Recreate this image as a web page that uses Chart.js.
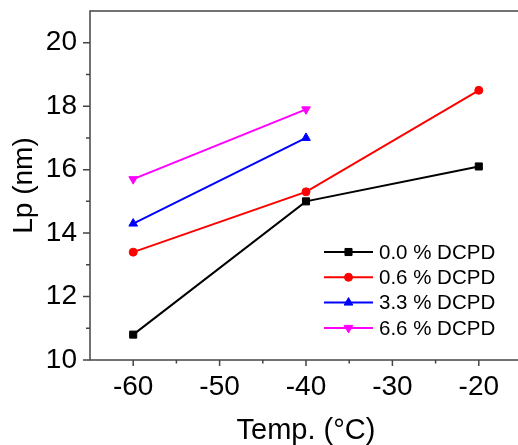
<!DOCTYPE html>
<html><head><meta charset="utf-8">
<script src="https://cdn.jsdelivr.net/npm/chart.js@4/dist/chart.umd.min.js"></script>
<style>
html,body{margin:0;padding:0;overflow:hidden;background:#fff;width:518px;height:445px}
canvas{display:block}
</style></head>
<body>
<canvas id="c" width="530" height="445"></canvas>
<script>
// ---- data ----
const temps = [-60, -40, -20];
const seriesLabels = ['0.0 % DCPD', '0.6 % DCPD', '3.3 % DCPD', '6.6 % DCPD'];
const lp00 = [10.8, 15.0, 16.1];
const lp06 = [13.4, 15.3, 18.5];
const lp33 = [14.3, 17.0];
const lp66 = [15.7, 17.9];
const xTicks = [-60, -50, -40, -30, -20];
const xMinorTicks = [-55, -45, -35, -25];
const yTicks = [10, 12, 14, 16, 18, 20];
const yMinorTicks = [11, 13, 15, 17, 19];
const xTitle = 'Temp. (°C)';
const yTitle = 'Lp (nm)';

const FONT = "'Liberation Sans', Arial, sans-serif";
Chart.defaults.font.family = FONT;
Chart.defaults.color = '#000';

const toPts = (vals) => vals.map((v, i) => ({x: temps[i], y: v}));
const colors = ['#000000', '#ff0000', '#0000ff', '#ff00ff'];
const styles = [
  {pointStyle: 'rect', radius: 5, rotation: 0},
  {pointStyle: 'circle', radius: 4, rotation: 0},
  {pointStyle: 'triangle', radius: 5, rotation: 0},
  {pointStyle: 'triangle', radius: 5, rotation: 180}
];
const seriesVals = [lp00, lp06, lp33, lp66];

const datasets = seriesVals.map((vals, i) => ({
  label: seriesLabels[i],
  data: toPts(vals),
  borderColor: colors[i],
  backgroundColor: colors[i],
  borderWidth: 2,
  pointStyle: styles[i].pointStyle,
  pointRadius: styles[i].radius,
  pointRotation: styles[i].rotation,
  pointBackgroundColor: colors[i],
  pointBorderColor: colors[i],
  pointBorderWidth: 1,
  tension: 0,
  clip: false
}));

function drawMarker(ctx, st, x, y, color) {
  ctx.save();
  ctx.fillStyle = color; ctx.strokeStyle = color; ctx.lineWidth = 1;
  if (Chart.helpers && Chart.helpers.drawPoint) {
    Chart.helpers.drawPoint(ctx, {pointStyle: st.pointStyle, radius: st.radius, rotation: st.rotation, borderWidth: 1}, x, y);
  }
  ctx.restore();
}

const framePlugin = {
  id: 'frameTicks',
  afterDraw(chart) {
    const {ctx, chartArea: a, scales: {x, y}} = chart;
    ctx.save();
    ctx.strokeStyle = '#444';
    ctx.lineWidth = 1.5;
    ctx.strokeRect(a.left, a.top, a.right - a.left, a.bottom - a.top);
    ctx.beginPath();
    xTicks.forEach(v => { const p = x.getPixelForValue(v); ctx.moveTo(p, a.bottom); ctx.lineTo(p, a.bottom + 6); });
    xMinorTicks.forEach(v => { const p = x.getPixelForValue(v); ctx.moveTo(p, a.bottom); ctx.lineTo(p, a.bottom + 3.5); });
    yTicks.forEach(v => { const p = y.getPixelForValue(v); ctx.moveTo(a.left, p); ctx.lineTo(a.left - 7, p); });
    yMinorTicks.forEach(v => { const p = y.getPixelForValue(v); ctx.moveTo(a.left, p); ctx.lineTo(a.left - 4, p); });
    ctx.stroke();
    ctx.restore();

    // legend inside plot area
    const lx = a.left + 234, ly0 = a.bottom - 108, dy = 25.3;
    chart.data.datasets.forEach((ds, i) => {
      const yy = ly0 + i * dy;
      ctx.save();
      ctx.strokeStyle = ds.borderColor; ctx.lineWidth = 2;
      ctx.beginPath(); ctx.moveTo(lx, yy); ctx.lineTo(lx + 49, yy); ctx.stroke();
      drawMarker(ctx, styles[i], lx + 24.5, yy, ds.borderColor);
      ctx.fillStyle = '#000';
      ctx.font = '20.5px ' + FONT;
      ctx.textBaseline = 'middle';
      ctx.fillText(ds.label, lx + 55, yy + 1);
      ctx.restore();
    });
  }
};

new Chart(document.getElementById('c'), {
  type: 'line',
  data: {datasets},
  options: {
    responsive: false,
    animation: false,
    devicePixelRatio: 1,
    layout: {padding: {top: 11, right: 8, left: 0, bottom: 0}},
    plugins: {legend: {display: false}, tooltip: {enabled: false}},
    scales: {
      x: {
        type: 'linear', min: -65, max: -15,
        afterBuildTicks: s => { s.ticks = xTicks.map(v => ({value: v})); },
        afterFit: s => { s.height = 85; s.paddingLeft = 0; s.paddingRight = 0; },
        border: {display: false},
        grid: {display: false, drawTicks: false},
        ticks: {font: {size: 28}, color: '#000', padding: 10, maxRotation: 0},
        title: {display: true, text: xTitle, font: {size: 29, lineHeight: 1}, color: '#000', padding: {top: 0, bottom: -0.5}}
      },
      y: {
        type: 'linear', min: 10, max: 21,
        afterBuildTicks: s => { s.ticks = yTicks.map(v => ({value: v})); },
        afterFit: s => { s.width = 90; s.paddingTop = 0; s.paddingBottom = 0; },
        border: {display: false},
        grid: {display: false, drawTicks: false},
        ticks: {font: {size: 28}, color: '#000', padding: 13},
        title: {display: true, text: yTitle, font: {size: 28, lineHeight: 1}, color: '#000', padding: {top: 10, bottom: 0}}
      }
    }
  },
  plugins: [framePlugin]
});
</script>
</body></html>
